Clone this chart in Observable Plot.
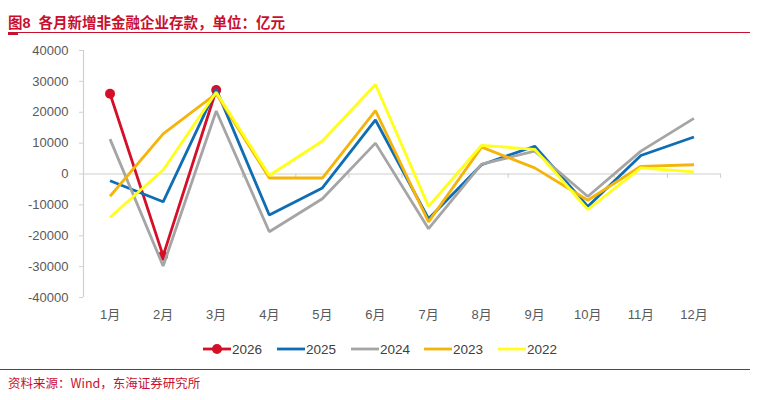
<!DOCTYPE html>
<html><head><meta charset="utf-8">
<script src="https://cdn.jsdelivr.net/npm/d3@7"></script>
<script src="https://cdn.jsdelivr.net/npm/@observablehq/plot@0.6"></script>
<style>
body{margin:0;background:#fff;font-family:"Liberation Sans",Arial,"Noto Sans CJK SC",sans-serif;}
#wrap{position:relative;width:761px;height:400px;overflow:hidden;}
#title{position:absolute;left:8px;top:11px;font-size:14.5px;font-weight:bold;color:#c8102e;font-family:"Liberation Sans",Arial,"Noto Sans CJK SC",sans-serif;white-space:nowrap;}
#tline{position:absolute;left:8px;top:32px;width:742px;height:1px;background:#c8102e;}
#tmark{position:absolute;left:8px;top:33px;width:10px;height:2px;background:#c8102e;}
#chart{position:absolute;left:0;top:35px;}
#legend{position:absolute;left:0;top:339px;width:761px;height:20px;}
#bline{position:absolute;left:0;top:369px;width:750px;height:1px;background:#c8102e;}
#source{position:absolute;left:8px;top:373px;font-size:12.5px;color:#c8102e;font-family:"Noto Sans CJK SC",sans-serif;white-space:nowrap;}
</style></head>
<body>
<div id="wrap">
  <div id="title">图8&nbsp; 各月新增非金融企业存款，单位：亿元</div>
  <div id="tline"></div><div id="tmark"></div>
  <div id="chart"></div>
  <div id="legend"></div>
  <div id="bline"></div>
  <div id="source">资料来源：Wind，东海证券研究所</div>
</div>
<script>
const months = ["1月","2月","3月","4月","5月","6月","7月","8月","9月","10月","11月","12月"];
const years = ["2026","2025","2024","2023","2022"];
const colors = ["#d40f27","#0f6db3","#a5a5a5","#f5b40a","#ffff1a"];
const v2026 = [26000, -26500, 27200];
const v2025 = [-2200, -9000, 27500, -13300, -4500, 17500, -14500, 3000, 9000, -10500, 6000, 12000];
const v2024 = [11300, -29800, 20400, -18700, -8000, 10000, -17700, 3200, 7400, -7300, 7400, 18000];
const v2023 = [-7200, 13000, 26000, -1300, -1300, 20500, -15500, 8700, 2000, -8500, 2500, 3000];
const v2022 = [-14000, 1300, 26500, -500, 10700, 29000, -10500, 9300, 8000, -11500, 2000, 700];
const yTicks = [-40000,-30000,-20000,-10000,0,10000,20000,30000,40000];

const seriesVals = [v2026, v2025, v2024, v2023, v2022];
const rows = years.map((y, k) => seriesVals[k].map((v, i) => ({year: y, m: i + 1, v})));
const boundaries = d3.range(0, 13).map(i => i + 0.5);

const lineMarks = [];
rows.forEach((r, k) => {
  lineMarks.push(Plot.line(r, {x: "m", y: "v", stroke: colors[k], strokeWidth: 2.8, strokeLinejoin: "miter", strokeLinecap: "butt"}));
  if (k === 0) lineMarks.push(Plot.dot(r, {x: "m", y: "v", r: 5, fill: colors[0], stroke: "none"}));
});

const chart = Plot.plot({
  width: 761, height: 300,
  marginLeft: 83, marginRight: 41, marginTop: 15, marginBottom: 38,
  style: {fontFamily: '"Liberation Sans", Arial, "Noto Sans CJK SC", sans-serif', fontSize: "13px", color: "#595959", background: "transparent"},
  x: {domain: [0.5, 12.5]},
  y: {domain: [-40000, 40000]},
  marks: [
    Plot.ruleY([0], {stroke: "#d0d0d0", strokeWidth: 1.2}),
    Plot.ruleX(boundaries.slice(1), {y1: 0, y2: -1400, stroke: "#d0d0d0", strokeWidth: 1.2}),
    Plot.ruleX([0.5], {y1: -40000, y2: 40000, stroke: "#d0d0d0", strokeWidth: 1.2}),
    Plot.axisY({ticks: yTicks, tickSize: 4, tickPadding: 11, tickFormat: d => String(d), stroke: "#d0d0d0", fill: "#595959", label: null}),
    Plot.axisX({ticks: d3.range(1, 13), tickSize: 0, tickPadding: 12, tickFormat: d => months[d - 1], fill: "#595959", label: null}),
    ...lineMarks
  ]
});
document.getElementById("chart").appendChild(chart);

// legend
const lx = [203, 277, 351, 424, 498];
const leg = d3.select("#legend").append("svg").attr("width", 761).attr("height", 20);
years.forEach((y, k) => {
  const g = leg.append("g").attr("transform", `translate(${lx[k]},10)`);
  g.append("line").attr("x1", 0).attr("x2", 28).attr("y1", 0).attr("y2", 0).attr("stroke", colors[k]).attr("stroke-width", 2.8);
  if (k === 0) g.append("circle").attr("cx", 14).attr("cy", 0).attr("r", 5).attr("fill", colors[0]);
  g.append("text").attr("x", 29).attr("y", 0).attr("dy", "0.36em").attr("font-size", "13.5px")
    .attr("fill", "#404040").attr("font-family", '"Liberation Sans", Arial, sans-serif').text(y);
});
</script>
</body></html>
